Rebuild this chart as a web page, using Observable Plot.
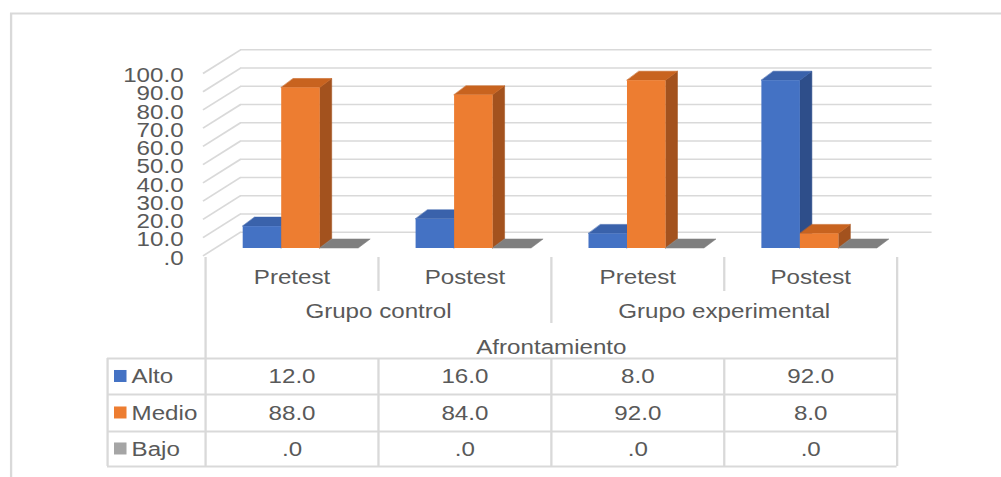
<!DOCTYPE html>
<html><head><meta charset="utf-8">
<script src="https://cdn.jsdelivr.net/npm/d3@7"></script>
<script src="https://cdn.jsdelivr.net/npm/@observablehq/plot@0.6"></script>
<style>
html,body{margin:0;padding:0;background:#fff;overflow:hidden}
#chart{width:1001px;height:477px;position:relative;overflow:hidden;background:#fff}
#chart svg{transform-origin:0 0;display:block;max-width:none}
</style></head><body><div id="chart"></div>
<script>
// ---- data ----
const categories = ["Pretest", "Postest", "Pretest", "Postest"];
const groups = ["Grupo control", "Grupo experimental"];
const groupTitle = "Afrontamiento";
const series = ["Alto", "Medio", "Bajo"];
const alto = [12.0, 16.0, 8.0, 92.0];
const medio = [88.0, 84.0, 92.0, 8.0];
const bajo = [0.0, 0.0, 0.0, 0.0];
const yTicks = [0, 10, 20, 30, 40, 50, 60, 70, 80, 90, 100];

const frontColors = {Alto: "#4472C4", Medio: "#ED7D31", Bajo: "#A5A5A5"};
const topColors = {Alto: "#3A62AB", Medio: "#C8631F", Bajo: "#7F7F7F"};
const sideColors = {Alto: "#2E4E8A", Medio: "#A3521E", Bajo: "#6E6E6E"};
const fmt = v => v === 0 ? ".0" : v.toFixed(1);

// ---- layout (final pixels) ----
const SX = 1.15;                 // horizontal text stretch of the original
const W = 1001 / SX, H = 477;
const X0 = 205, UX = 172.9;      // category origin, px per category
const Y0 = 255.4, UY = 1.824;    // front-floor zero, px per value unit
const xu = px => (px - X0) / UX;
const yu = py => (Y0 - py) / UY;
const FDX = 35 / UX, FDY = 23.7 / UY;        // floor depth
const BX0 = 37.7, BW = 38.5, BB = 7.4;       // bar offset, width, base lift
const BDX = 12 / UX, BDY = 9 / UY;           // bar depth
const grid = "#d9d9d9", txt = "#595959";
const FS = 21;

const values = [alto, medio, bajo];
const bars = [];
categories.forEach((c, i) => series.forEach((s, j) => {
  const v = values[j][i];
  const x0 = i + (BX0 + j * BW) / UX, x1 = x0 + BW / UX;
  const b = BB / UY, t = b + v;
  bars.push({s, i, j, v, x0, x1, b, t});
}));
const tops = [], sides = [];
bars.forEach((d, n) => {
  tops.push({k: n, x1: d.x0, y1: d.t, x2: d.x0 + BDX, y2: d.t + BDY, fill: topColors[d.s]});
  tops.push({k: n, x1: d.x1, y1: d.t, x2: d.x1 + BDX, y2: d.t + BDY, fill: topColors[d.s]});
  if (d.v > 0) {
    sides.push({k: n, x1: d.x1, y1: d.b, x2: d.x1, y2: d.t, fill: sideColors[d.s]});
    sides.push({k: n, x1: d.x1 + BDX, y1: d.b + BDY, x2: d.x1 + BDX, y2: d.t + BDY, fill: sideColors[d.s]});
  }
});

// table structure
const rowLines = [358, 394, 431, 466];
const rowCenters = [376, 412.5, 448.5];
const vSegs = [
  {x: xu(107), p1: 358, p2: 466},
  {x: 0, p1: 257, p2: 466},
  {x: 1, p1: 257, p2: 291}, {x: 1, p1: 358, p2: 466},
  {x: 2, p1: 257, p2: 323}, {x: 2, p1: 358, p2: 466},
  {x: 3, p1: 257, p2: 291}, {x: 3, p1: 358, p2: 466},
  {x: 4, p1: 257, p2: 466}
];
const cells = [];
series.forEach((s, j) => categories.forEach((c, i) => cells.push({i, j, label: fmt(values[j][i])})));

const textOpts = {fill: txt, fontSize: FS, fontFamily: "Liberation Sans, Arial, sans-serif", lineAnchor: "middle"};

const plot = Plot.plot({
  width: W, height: H,
  marginTop: 0, marginBottom: 0, marginLeft: 0, marginRight: 0,
  x: {domain: [xu(0), xu(1001)], range: [0, W], axis: null},
  y: {domain: [yu(H), yu(0)], range: [H, 0], axis: null},
  color: {type: "identity"},
  style: {fontFamily: "Liberation Sans, Arial, sans-serif", fontSize: FS + "px", background: "#fff", overflow: "visible"},
  marks: [
    // outer border
    Plot.ruleY([0], {y: () => yu(13), x1: () => xu(10), x2: () => xu(1010), stroke: grid, strokeWidth: 2}),
    Plot.ruleX([0], {x: () => xu(10.5), y1: () => yu(13), y2: () => yu(490), stroke: grid, strokeWidth: 2}),
    // back wall gridlines
    Plot.ruleY(yTicks, {y: v => v + FDY, x1: () => FDX, x2: () => 4 + FDX, stroke: grid, strokeWidth: 1.6}),
    // side wall gridlines
    Plot.link(yTicks, {x1: () => -0.015, y1: v => v, x2: () => FDX, y2: v => v + FDY, stroke: grid, strokeWidth: 1.6}),
    // y labels
    Plot.text(yTicks, {x: () => xu(183), y: v => v, text: fmt, textAnchor: "end", dy: 2, ...textOpts}),
    // bars
    Plot.area(sides, {x1: "x1", y1: "y1", x2: "x2", y2: "y2", z: "k", fill: "fill", stroke: "fill", strokeWidth: 0.5}),
    Plot.area(tops, {x1: "x1", y1: "y1", x2: "x2", y2: "y2", z: "k", fill: "fill", stroke: "fill", strokeWidth: 0.5}),
    Plot.rect(bars.filter(d => d.v > 0), {x1: "x0", x2: "x1", y1: "b", y2: "t", fill: d => frontColors[d.s]}),
    // table lines
    Plot.ruleY(rowLines, {y: p => yu(p), x1: () => xu(107), x2: () => 4, stroke: grid, strokeWidth: 2}),
    Plot.ruleX(vSegs, {x: "x", y1: d => yu(d.p1), y2: d => yu(d.p2), stroke: grid, strokeWidth: 2}),
    // header text
    Plot.text(categories, {x: (d, i) => i + 0.5, y: () => yu(277), text: d => d, textAnchor: "middle", ...textOpts}),
    Plot.text(groups, {x: (d, i) => 2 * i + 1, y: () => yu(311), text: d => d, textAnchor: "middle", ...textOpts}),
    Plot.text([groupTitle], {x: () => 2, y: () => yu(347), text: d => d, textAnchor: "middle", ...textOpts}),
    // legend keys + row labels
    Plot.rect(series, {x1: () => xu(114), x2: () => xu(126.5), y1: (d, j) => yu(rowCenters[j] + 6), y2: (d, j) => yu(rowCenters[j] - 6), fill: d => frontColors[d]}),
    Plot.text(series, {x: () => xu(131), y: (d, j) => yu(rowCenters[j]), text: d => d, textAnchor: "start", ...textOpts}),
    // values
    Plot.text(cells, {x: d => d.i + 0.5, y: d => yu(rowCenters[d.j]), text: "label", textAnchor: "middle", ...textOpts})
  ]
});
plot.style.transform = `scaleX(${SX})`;
plot.style.transformOrigin = "0 0";
document.getElementById("chart").appendChild(plot);
</script>
</body></html>
